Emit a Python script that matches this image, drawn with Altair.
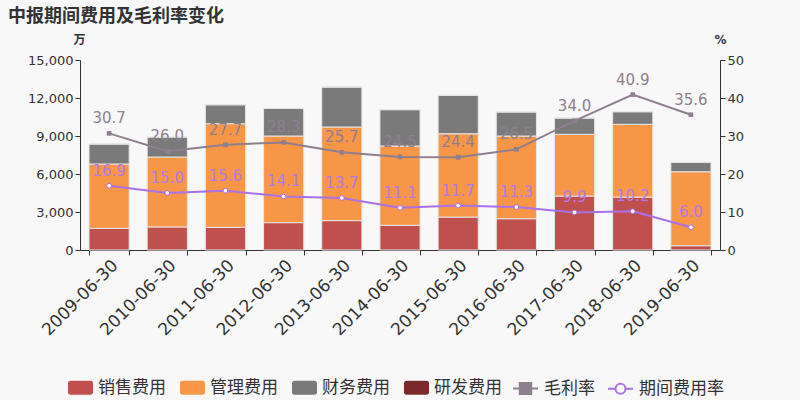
import altair as alt
import pandas as pd

dates = ["2009-06-30", "2010-06-30", "2011-06-30", "2012-06-30", "2013-06-30", "2014-06-30",
         "2015-06-30", "2016-06-30", "2017-06-30", "2018-06-30", "2019-06-30"]
sales = [1710, 1820, 1790, 2160, 2320, 1950, 2600, 2470, 4260, 4180, 340]
admin = [5080, 5520, 8180, 6840, 7390, 6260, 6580, 6530, 4870, 5740, 5840]
finance = [1580, 1580, 1500, 2180, 3160, 2870, 3030, 1900, 1290, 1000, 740]
rnd = [0, 0, 0, 0, 0, 0, 0, 0, 0, 0, 0]
gross = [30.7, 26.0, 27.7, 28.3, 25.7, 24.5, 24.4, 26.5, 34.0, 40.9, 35.6]
period = [16.9, 15.0, 15.6, 14.1, 13.7, 11.1, 11.7, 11.3, 9.9, 10.2, 6.0]

cats = ["销售费用", "管理费用", "财务费用", "研发费用"]
cat_colors = ["#c0504d", "#f79646", "#7a7a7a", "#7b2b2b"]
series = ["毛利率", "期间费用率"]
series_colors = ["#8e7f8f", "#a970e8"]
series_fills = ["#8e7f8f", "#ffffff"]
series_shapes = ["M-1,0H-0.46M0.46,0H1M-0.46,-0.44H0.46V0.44H-0.46Z",
                 "M-1,0H-0.4M0.4,0H1M-0.4,0A0.4,0.4 0 1 1 0.4,0A0.4,0.4 0 1 1 -0.4,0Z"]

rows = []
for i, d in enumerate(dates):
    for k, (c, v) in enumerate(zip(cats, [sales[i], admin[i], finance[i], rnd[i]])):
        rows.append({"date": d, "cat": c, "value": v, "ord": k})
bars_df = pd.DataFrame(rows)

lrows = []
for i, d in enumerate(dates):
    lrows.append({"date": d, "series": "毛利率", "rate": gross[i], "label": f"{gross[i]:.1f}"})
    lrows.append({"date": d, "series": "期间费用率", "rate": period[i], "label": f"{period[i]:.1f}"})
lines_df = pd.DataFrame(lrows)

NUM_FONT = "DejaVu Sans"
CJK = "Noto Sans CJK SC"

x = alt.X("date:N", sort=dates,
          scale=alt.Scale(paddingInner=0.31, paddingOuter=0.155),
          axis=alt.Axis(title=None, labelAngle=-45, labelFontSize=17, labelFont=NUM_FONT,
                        labelColor="#333333", tickBand="extent", tickSize=5,
                        domainColor="#333333", tickColor="#333333", labelPadding=2))

rrect = ("M-0.8,-0.56H0.8A0.2,0.2 0 0 1 1,-0.36V0.36A0.2,0.2 0 0 1 0.8,0.56H-0.8"
         "A0.2,0.2 0 0 1 -1,0.36V-0.36A0.2,0.2 0 0 1 -0.8,-0.56Z")

bars = alt.Chart(bars_df).mark_bar(stroke="#e6e6e6", strokeWidth=1).encode(
    x=x,
    y=alt.Y("value:Q", stack="zero",
            scale=alt.Scale(domain=[0, 15000]),
            axis=alt.Axis(values=list(range(0, 15001, 3000)), format=",.0f", title="万",
                          titleAngle=0, titleX=-1, titleY=-21, titleAlign="center",
                          titleBaseline="middle",
                          titleFont=CJK, titleFontSize=12, titleFontWeight="bold",
                          titleColor="#333333", labelFont=NUM_FONT, labelFontSize=13,
                          labelColor="#333333", grid=False, tickSize=5,
                          domainColor="#333333", tickColor="#333333")),
    color=alt.Color("cat:N", scale=alt.Scale(domain=cats, range=cat_colors),
                    legend=alt.Legend(title=None, orient="none", direction="horizontal",
                                      legendX=-12, legendY=315, symbolType=rrect,
                                      symbolSize=625, labelFont=CJK, labelFontSize=17,
                                      labelColor="#333333", columnPadding=14,
                                      labelOffset=5, symbolStrokeWidth=0)),
    order=alt.Order("ord:Q"),
)

y2 = alt.Y("rate:Q", scale=alt.Scale(domain=[0, 50]),
           axis=alt.Axis(orient="right", values=list(range(0, 51, 10)), title="%",
                         titleAngle=0, titleX=0, titleY=-21, titleAlign="center",
                         titleBaseline="middle",
                         titleFont=NUM_FONT, titleFontSize=12, titleFontWeight="bold",
                         titleColor="#333333", labelFont=NUM_FONT, labelFontSize=13,
                         labelColor="#333333", grid=False, tickSize=5,
                         domainColor="#333333", tickColor="#333333"))

gsel = alt.datum.series == "毛利率"
psel = alt.datum.series == "期间费用率"

line_g = alt.Chart(lines_df).transform_filter(gsel).mark_line(
    strokeWidth=2, color=series_colors[0]).encode(x=x, y=y2)
line_p = alt.Chart(lines_df).transform_filter(psel).mark_line(
    strokeWidth=2, color=series_colors[1]).encode(x=x, y=y2)

leg2 = dict(title=None, orient="none", direction="horizontal",
            legendX=432, legendY=315, symbolSize=625,
            labelFont=CJK, labelFontSize=17, labelColor="#333333",
            columnPadding=9, labelOffset=5, symbolStrokeWidth=2,
            symbolOpacity=1)

legend_layer = alt.Chart(lines_df).mark_point(opacity=0, strokeWidth=2, size=10).encode(
    x=x, y=y2,
    shape=alt.Shape("series:N", scale=alt.Scale(domain=series, range=series_shapes),
                    legend=alt.Legend(**leg2)),
    fill=alt.Fill("series:N", scale=alt.Scale(domain=series, range=series_fills),
                  legend=alt.Legend(**leg2)),
    stroke=alt.Stroke("series:N", scale=alt.Scale(domain=series, range=series_colors),
                      legend=alt.Legend(**leg2)),
)

pt_gross = alt.Chart(lines_df).transform_filter(gsel).mark_point(
    shape="square", filled=True, size=22, color=series_colors[0], opacity=1).encode(x=x, y=y2)
pt_period = alt.Chart(lines_df).transform_filter(psel).mark_point(
    shape="circle", filled=True, size=22, fill="#ffffff", stroke=series_colors[1],
    strokeWidth=1, opacity=1).encode(x=x, y=y2)

txt_gross = alt.Chart(lines_df).transform_filter(gsel).mark_text(
    dy=-15, fontSize=15, font=NUM_FONT, color="#8e7f8f", baseline="middle").encode(
    x=x, y=y2, text="label:N")
txt_period = alt.Chart(lines_df).transform_filter(psel).mark_text(
    dy=-15, fontSize=15, font=NUM_FONT, color="#b07ae8", baseline="middle").encode(
    x=x, y=y2, text="label:N")

right = alt.layer(line_g, line_p, legend_layer, pt_gross, pt_period, txt_gross, txt_period)

chart = alt.layer(bars, right).resolve_scale(y="independent").properties(
    width=640, height=190,
    title=alt.Title("中报期间费用及毛利率变化", anchor="start", frame="group", dx=-72,
                    offset=7, fontSize=18, font=CJK, fontWeight="bold", color="#333333"),
    background="#f8f8f8",
    autosize=alt.AutoSizeParams(type="none"),
    padding={"left": 80, "top": 60, "right": 80, "bottom": 150},
).configure_view(stroke=None)

chart.save("out.html", embed_options={"renderer": "svg", "actions": False})
